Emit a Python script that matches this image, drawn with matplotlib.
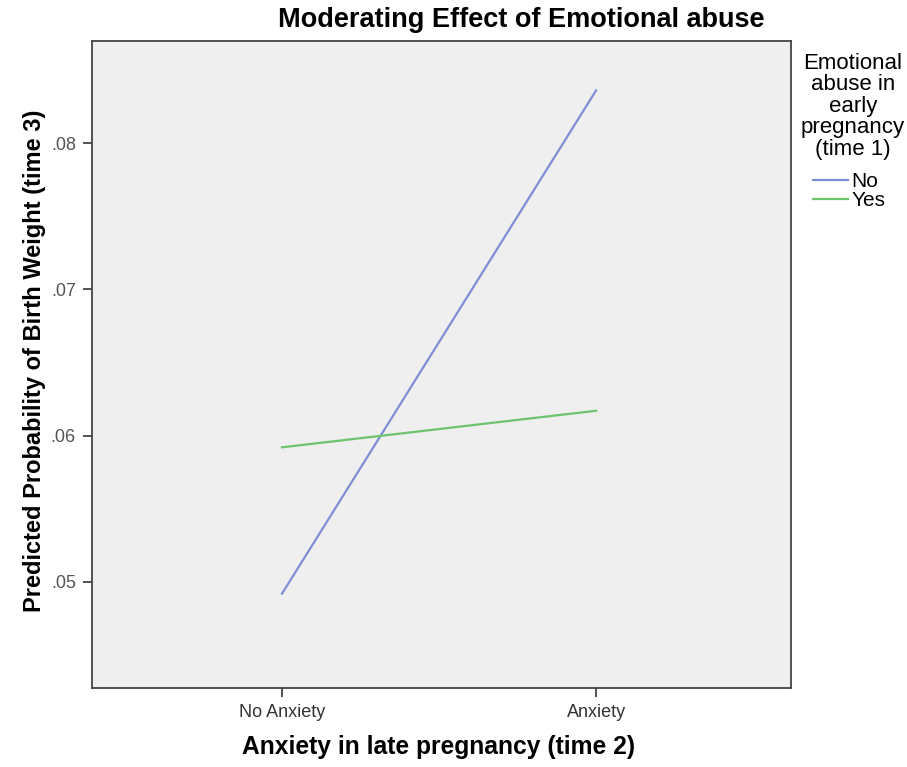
import matplotlib
matplotlib.use("Agg")
import matplotlib.pyplot as plt

# data
categories = ["No Anxiety", "Anxiety"]
series_names = ["No", "Yes"]
prob_no_abuse = [0.0492, 0.0836]
prob_abuse = [0.0592, 0.0617]
yticks = [0.05, 0.06, 0.07, 0.08]
ytick_labels = [".05", ".06", ".07", ".08"]
legend_title = "Emotional\nabuse in\nearly\npregnancy\n(time 1)"

colors = ["#7f8dd4", "#6dc46d"]

plt.rcParams['font.family'] = ['Liberation Sans', 'DejaVu Sans']

fig = plt.figure(figsize=(9.07, 7.67), dpi=100)
ax = fig.add_axes([0.1014, 0.103, 0.7706, 0.8435])
ax.set_facecolor("#efefef")

x = list(range(len(categories)))
l1, = ax.plot(x, prob_no_abuse, color=colors[0], lw=1.6, label=series_names[0])
l2, = ax.plot(x, prob_abuse, color=colors[1], lw=1.6, label=series_names[1])

ax.set_xlim(-0.605, 1.62)
ax.set_ylim(0.04275, 0.08697)
ax.set_xticks(x)
ax.set_xticklabels(categories, fontsize=13, color="#333333")
ax.set_yticks(yticks)
ax.set_yticklabels(ytick_labels, fontsize=13, color="#555555")
ax.tick_params(direction="out", length=6.5, width=1.2, color="#333333", pad=5)

for s in ax.spines.values():
    s.set_color("#444444")
    s.set_linewidth(1.3)

ax.set_xlabel("Anxiety in late pregnancy (time 2)", fontsize=17.7, fontweight="bold", va="center")
ax.xaxis.set_label_coords(0.496, -0.091)
ax.set_ylabel("Predicted Probability of Birth Weight (time 3)", fontsize=17, fontweight="bold", va="center")
ax.yaxis.set_label_coords(-0.082, 0.505)
fig.text(521 / 907, 1 - 20 / 767, "Moderating Effect of Emotional abuse",
         ha="center", va="center", fontsize=19.5, fontweight="bold")

# legend title drawn separately so the gap to the entries matches
fig.text(853 / 907, 1 - 53 / 767, legend_title, ha="center", va="top",
         fontsize=16, linespacing=1.03, multialignment="center")
leg = fig.legend(handles=[l1, l2], loc="upper left", bbox_to_anchor=(813 / 907, 1 - 172 / 767),
                 frameon=False, fontsize=15, handlelength=1.7, handletextpad=0.15,
                 labelspacing=0.02, borderpad=0, borderaxespad=0)

fig.savefig("out.png", dpi=100)
